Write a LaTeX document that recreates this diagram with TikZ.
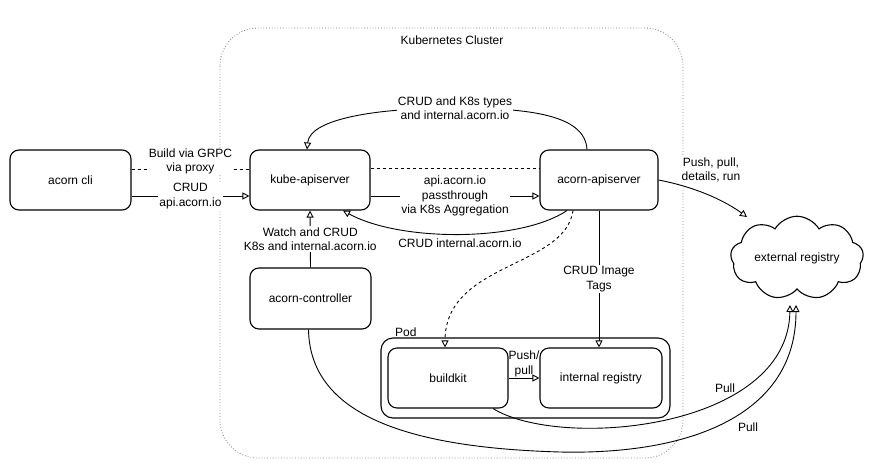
\documentclass[tikz,border=0pt]{standalone}
\usepackage{fontspec}
\setmainfont{Liberation Sans}
\usetikzlibrary{arrows.meta,shapes.symbols}
\begin{document}
\begin{tikzpicture}[x=1pt,y=-1pt,
  font=\fontsize{12}{14.5}\selectfont,
  box/.style={draw, line width=1.1pt, rounded corners=9pt, align=center},
  lbl/.style={fill=white, inner sep=1pt, align=center},
  arr/.style={-{Triangle[open,length=7pt,width=7pt]}},
  ln/.style={line width=0.9pt},
  ]
\useasboundingbox (0,0) rectangle (881,469);
% cluster
\draw[gray, dotted, line width=0.8pt, rounded corners=38pt] (220,28) rectangle (683,458);
\node (kc) at (452,40) {Kubernetes Cluster};
% nodes
\node[box, minimum width=121pt, minimum height=60pt] (cli) at (70.5,180) {acorn cli};
\node[box, minimum width=120pt, minimum height=60pt] (kube) at (310,180) {kube-apiserver};
\node[box, minimum width=118pt, minimum height=60pt] (aapi) at (599,180) {acorn-apiserver};
\node[box, minimum width=121pt, minimum height=61pt] (ctrl) at (310.5,298.5) {acorn-controller};
\node[box, rounded corners=12pt, minimum width=289pt, minimum height=80pt] (pod) at (525.5,378) {};
\node[anchor=south west, inner sep=1pt] (podlbl) at (394,338) {Pod};
\node[box, minimum width=120pt, minimum height=60pt] (bk) at (448,378) {buildkit};
\node[box, minimum width=122pt, minimum height=60pt] (ir) at (601,378) {internal registry};
\node[cloud, draw, line width=1.1pt, cloud puffs=9, cloud puff arc=120, aspect=1.9,
      minimum width=133pt, minimum height=75pt, inner sep=0pt] (ext) at (797,258) {external registry};
% edges
\draw[ln, dashed] ([yshift=11pt]cli.east) -- node[lbl, yshift=7.5pt] (l1) {Build via GRPC\\via proxy} ([yshift=11pt]kube.west);
\draw[ln, arr] ([yshift=-16pt]cli.east) -- node[lbl] (l2) {CRUD\\api.acorn.io} ([yshift=-16pt]kube.west);
\draw[ln, dashed] ([yshift=12pt]kube.east) -- ([yshift=12pt]aapi.west);
\draw[ln, arr] ([yshift=-16pt]kube.east) -- node[lbl] (l4) {api.acorn.io\\passthrough\\via K8s Aggregation} ([yshift=-16pt]aapi.west);
\draw[ln, arr] ([xshift=-32pt]aapi.south) .. controls (520,242) and (400,242) .. ([xshift=33pt]kube.south);
\node (l5) at (460,243) {CRUD internal.acorn.io};
\draw[ln, arr] ([xshift=-12pt]aapi.north) .. controls (585,115) and (530,108) .. (455,108) .. controls (380,108) and (310,118) .. ([xshift=-3pt]kube.north);
\node[lbl] (l6) at (455,108) {CRUD and K8s types\\and internal.acorn.io};
\draw[ln, arr] (ctrl.north) -- node[lbl] (l7) {Watch and CRUD\\K8s and internal.acorn.io} (kube.south);
\draw[ln, dashed, arr] ([xshift=-26pt]aapi.south) .. controls (565,268) and (445,262) .. ([xshift=-3pt]bk.north);
\draw[ln, arr] (aapi.south) -- node[lbl] (l9) {CRUD Image\\Tags} (aapi.south |- ir.north);
\draw[ln, arr] (bk.east) -- node[above, inner sep=1pt, align=center] (l10) {Push/\\pull} (ir.west);
\draw[ln, arr] (aapi.east) .. controls (700,188) and (728,203) .. ([shift={(-50pt,41pt)}]ext.center);
\node[lbl] (l11) at (711,170) {Push, pull,\\details, run};
\draw[ln, arr] ([xshift=45pt]bk.south) .. controls (560,450) and (788,430) .. ([shift={(-7pt,-47pt)}]ext.center);
\draw[ln, arr] ([xshift=-2pt]ctrl.south) .. controls (310,420) and (420,448) .. (560,452) .. controls (690,455) and (796,415) .. ([shift={(-1pt,-47pt)}]ext.center);
\node[lbl] (p1) at (725,388) {Pull};
\node (p2) at (748,427) {Pull};
\end{tikzpicture}
\end{document}
